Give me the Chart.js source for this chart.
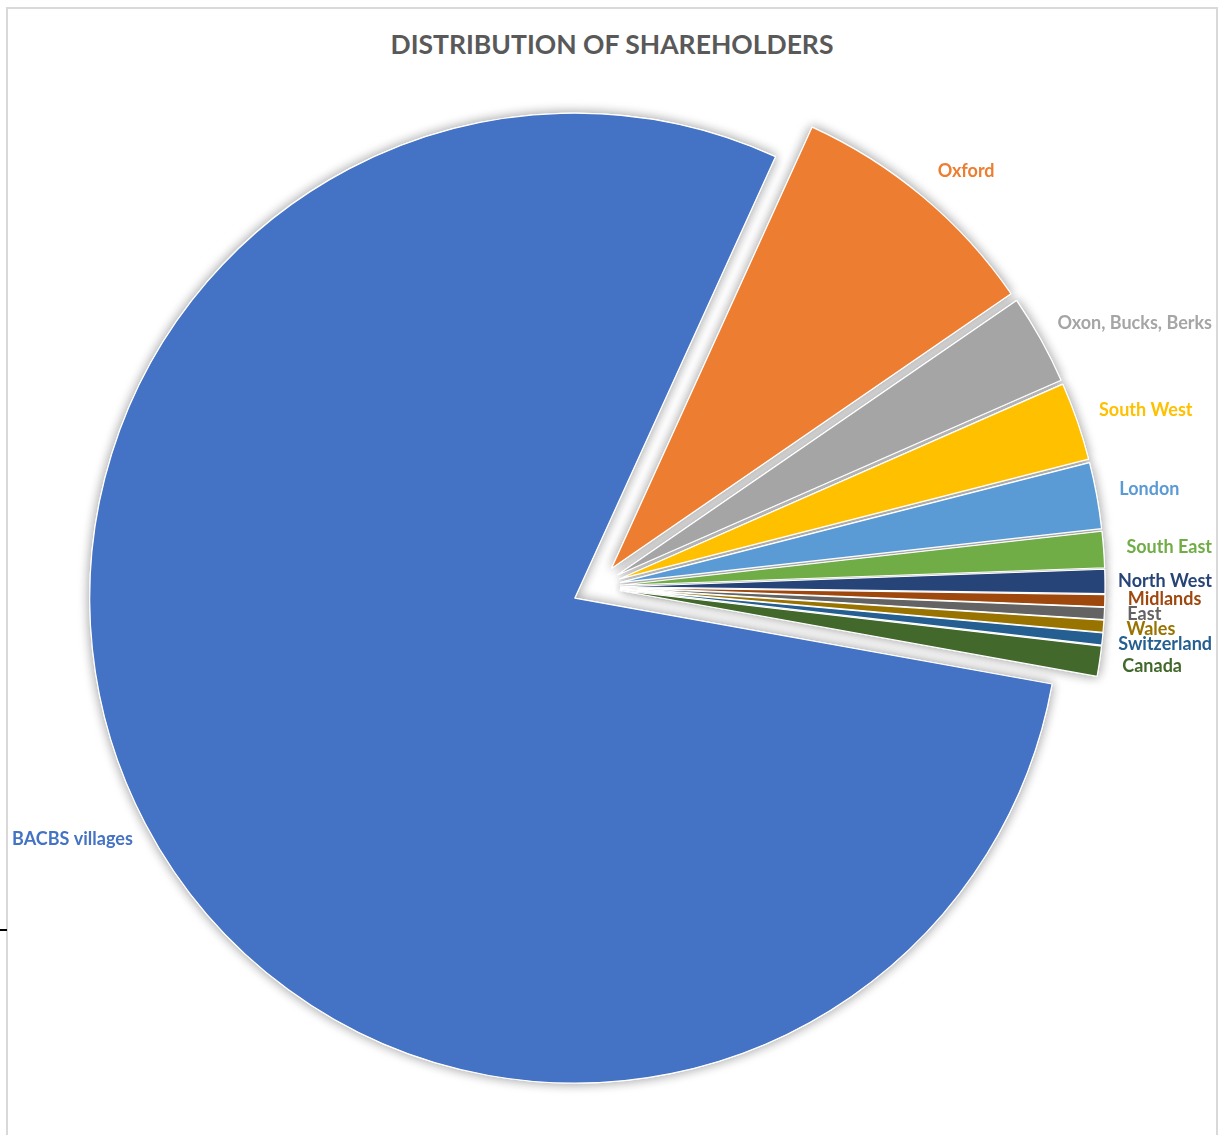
<!DOCTYPE html>
<html>
<head>
<meta charset="utf-8">
<script src="https://cdn.jsdelivr.net/npm/chart.js@4.4.1/dist/chart.umd.min.js"></script>
<style>
  html, body { margin: 0; padding: 0; background: #fff; }
  #wrap { position: relative; width: 1218px; height: 1135px; overflow: hidden; }
  #frame { position: absolute; left: 6px; top: 7px; width: 1212px; height: 1140px;
           border: 2px solid #d9d9d9; box-sizing: border-box; }
  #tick { position: absolute; left: 0; top: 929px; width: 7px; height: 2px; background: #000; }
  #title { position: absolute; left: 0; width: 1224px; top: 28px; text-align: center;
           font: bold 26.5px Lato, "Open Sans", sans-serif; color: #595959; }
  canvas { position: absolute; left: 0; top: 0; }
</style>
</head>
<body>
<div id="wrap">
  <div id="frame"></div>
  <div id="tick"></div>
  <div id="title">DISTRIBUTION OF SHAREHOLDERS</div>
  <canvas id="pie" width="1218" height="1135"></canvas>
</div>
<script>
// --- data
const regions = ['BACBS villages', 'Oxford', 'Oxon, Bucks, Berks', 'South West', 'London',
  'South East', 'North West', 'Midlands', 'East', 'Wales', 'Switzerland', 'Canada'];
const shareholders = [394, 43, 15, 13, 11, 6, 4, 2, 2, 2, 2, 5];
const colours = ['#4472C4', '#ED7D31', '#A5A5A5', '#FFC000', '#5B9BD5', '#70AD47',
  '#264478', '#9E480E', '#636363', '#997300', '#255E91', '#43682B'];

// --- look
const EXPLODE = 24;      // every slice is pulled out this far along its middle
const LABEL_GAP = 23;
const LABEL_FONT = 'bold 18px Lato, "Open Sans", sans-serif';
const MIN_STEP = 15;     // vertical room for a stacked label
const EDGE_L = 12, EDGE_R = 1212;   // labels are kept inside the chart frame

function centre(chart) {
  const a = chart.chartArea;
  return { x: (a.left + a.right) / 2, y: (a.top + a.bottom) / 2 };
}

// move each arc out from the centre (chart.js own offset also trims the slice)
const explodePlugin = {
  id: 'explode',
  afterUpdate(chart) {
    const c = centre(chart);
    chart.getDatasetMeta(0).data.forEach(arc => {
      const mid = (arc.startAngle + arc.endAngle) / 2;
      arc.x = c.x + Math.cos(mid) * EXPLODE;
      arc.y = c.y + Math.sin(mid) * EXPLODE;
    });
  }
};

// soft shadow behind the pieces only, drawn in a pass of its own
const shadowPlugin = {
  id: 'shadow',
  beforeDatasetsDraw(chart) {
    const c = chart.ctx;
    c.save();
    c.shadowColor = 'rgba(0,0,0,0.4)';
    c.shadowBlur = 12;
    chart.getDatasetMeta(0).data.forEach(arc => arc.draw(c));
    c.restore();
  }
};

const labelPlugin = {
  id: 'outsideLabels',
  afterDatasetsDraw(chart) {
    const c = chart.ctx;
    const arcs = chart.getDatasetMeta(0).data;
    c.save();
    c.font = LABEL_FONT;
    c.textAlign = 'center';
    c.textBaseline = 'middle';
    const items = arcs.map((arc, i) => {
      const mid = (arc.startAngle + arc.endAngle) / 2;
      const dx = Math.cos(mid), dy = Math.sin(mid);
      const r = arc.outerRadius + LABEL_GAP;
      const w = c.measureText(regions[i]).width / 2, h = 11;
      let x = arc.x + dx * r + w * Math.sign(dx);
      x = Math.min(Math.max(x, EDGE_L + w), EDGE_R - w);
      return { i, x, y: arc.y + dy * r + h * dy, right: dx > 0 };
    });
    // crowded labels on the right: merge into clusters spread evenly round their mean
    const right = items.filter(o => o.right).sort((a, b) => a.y - b.y);
    const groups = right.map(o => ({ items: [o], mean: o.y }));
    let merged = true;
    while (merged) {
      merged = false;
      for (let k = 0; k < groups.length - 1; k++) {
        const g = groups[k], n = groups[k + 1];
        const gEnd = g.mean + (g.items.length - 1) * MIN_STEP / 2;
        const nStart = n.mean - (n.items.length - 1) * MIN_STEP / 2;
        if (nStart - gEnd < MIN_STEP) {
          const all = g.items.concat(n.items);
          groups.splice(k, 2, { items: all, mean: all.reduce((a, o) => a + o.y, 0) / all.length });
          merged = true;
          break;
        }
      }
    }
    groups.forEach(g => {
      g.items.forEach((o, k) => {
        o.ty = g.mean + (k - (g.items.length - 1) / 2) * MIN_STEP;
      });
    });
    items.forEach(o => {
      c.fillStyle = colours[o.i];
      c.fillText(regions[o.i], o.x, o.ty !== undefined ? o.ty : o.y);
    });
    c.restore();
  }
};

new Chart(document.getElementById('pie'), {
  type: 'pie',
  data: {
    labels: regions,
    datasets: [{
      data: shareholders,
      backgroundColor: colours,
      borderColor: '#ffffff',
      borderWidth: 1.2
    }]
  },
  options: {
    responsive: false,
    animation: false,
    rotation: 100.2,
    radius: 485,
    layout: { padding: { left: 0, right: 26, top: 39, bottom: 0 } },
    plugins: {
      legend: { display: false },
      tooltip: { enabled: false },
      title: { display: false }
    }
  },
  plugins: [explodePlugin, shadowPlugin, labelPlugin]
});
</script>
</body>
</html>
